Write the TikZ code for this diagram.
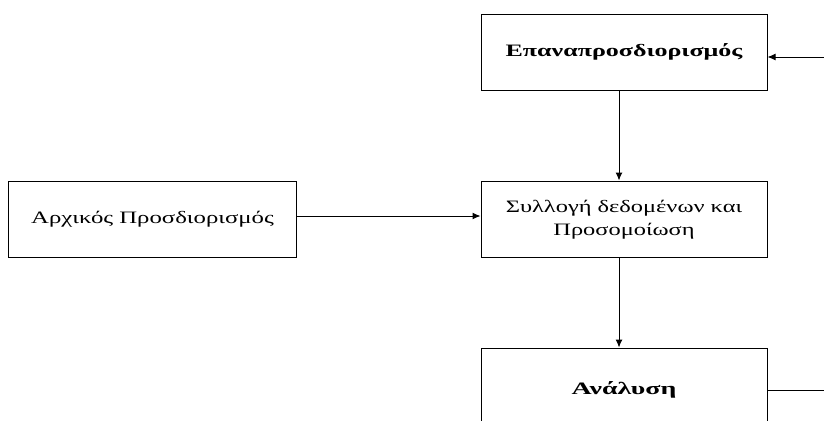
\documentclass[tikz,border=0pt]{standalone}
\usepackage{fontspec}
\setmainfont{Liberation Serif}
\usetikzlibrary{arrows.meta}
% horizontally widened label text
\newcommand{\widetext}[2]{\scalebox{#1}[1]{#2}}
\begin{document}
\begin{tikzpicture}[x=1bp,y=-1bp,
  box/.style={draw,line width=1bp,minimum width=286bp,minimum height=76bp,
    inner sep=0pt,align=center,font=\fontsize{17.5}{23}\selectfont},
  boldbox/.style={box,font=\bfseries\fontsize{17.5}{23}\selectfont},
  conn/.style={line width=1bp,-{Latex[length=8bp,width=7bp]}}]
  \useasboundingbox (0,0) rectangle (824,420);
  \clip (0,0) rectangle (824,420);
  % the four stages of the process
  \node[boldbox] (redef) at (624,52) {\widetext{1.49}{Επαναπροσδιορισμός}};
  \node[box] (sim) at (624,219) {\raisebox{-3bp}{\begin{tabular}{@{}c@{}}\widetext{1.40}{Συλλογή δεδομένων και}\\\widetext{1.40}{Προσομοίωση}\end{tabular}}};
  \node[box,minimum width=287bp] (init) at (152.5,219) {\widetext{1.42}{Αρχικός Προσδιορισμός}};
  \node[boldbox,minimum height=84bp] (anal) at (624,390) {\widetext{1.6}{Ανάλυση}};
  % flow between the stages
  \draw[conn] ([xshift=-5bp]redef.south) -- ([xshift=-5bp]sim.north);
  \draw[conn] ([yshift=3bp]init.east) -- ([yshift=3bp]sim.west);
  \draw[conn] ([xshift=-5bp]sim.south) -- ([xshift=-5bp]anal.north);
  % feedback loop from the analysis back to the redefinition
  \draw[conn] (anal.east) -- ++(80,0) |- ([yshift=-5bp]redef.east);
\end{tikzpicture}
\end{document}
